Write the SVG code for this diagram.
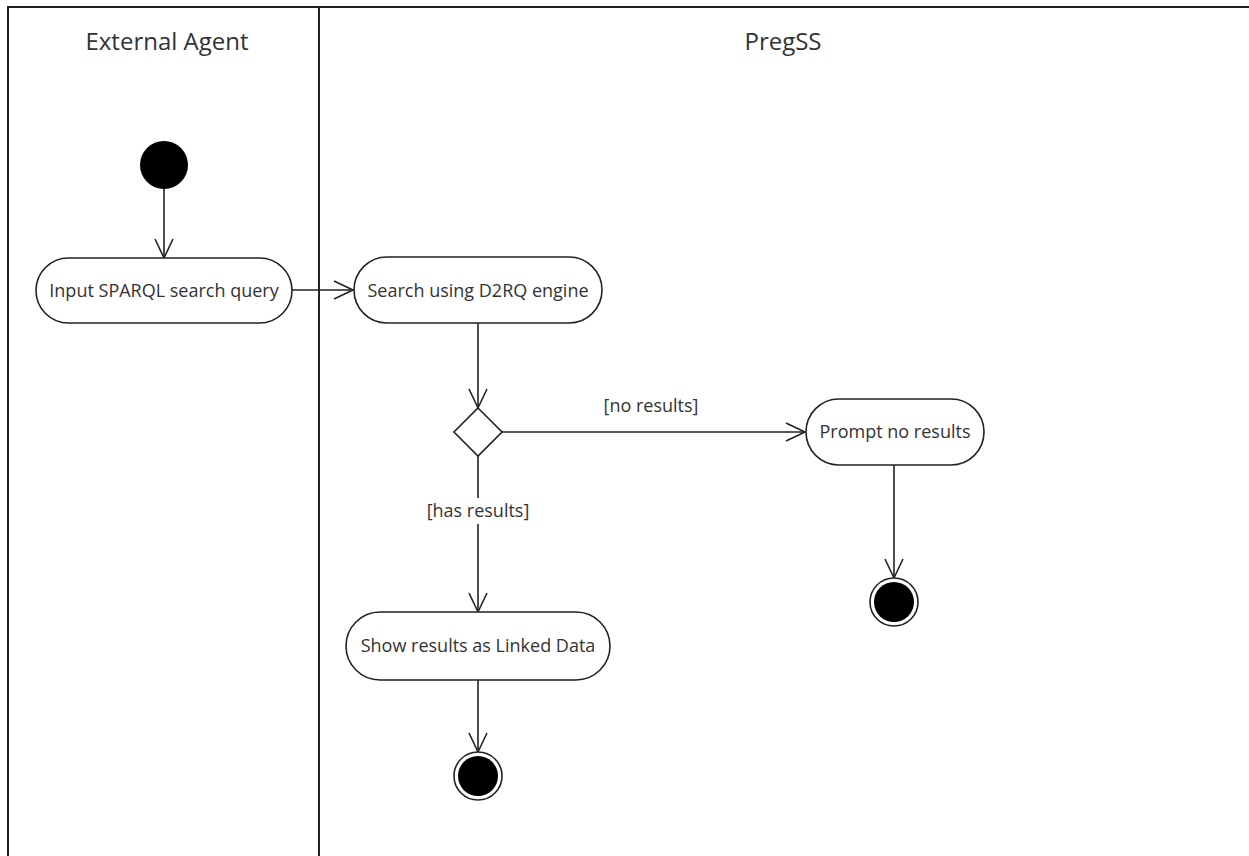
<svg xmlns="http://www.w3.org/2000/svg" width="1249" height="856" viewBox="0 0 1249 856">
<style>
.lane{fill:none;stroke:#222;stroke-width:2}
.act{fill:#fff;stroke:#222;stroke-width:1.6}
.t{font-family:"Open Sans","Noto Sans","Liberation Sans",sans-serif;font-size:18px;fill:#333;text-anchor:middle}
.h{font-family:"Open Sans","Noto Sans","Liberation Sans",sans-serif;font-size:24px;fill:#333;text-anchor:middle}
.c{fill:none;stroke:#222;stroke-width:1.6}
</style>
<defs>
<marker id="arr" markerWidth="24" markerHeight="24" refX="20" refY="12" orient="auto" markerUnits="userSpaceOnUse">
<path d="M1,3 L20,12 L1,21" fill="none" stroke="#222" stroke-width="1.6"/>
</marker>
</defs>
<rect width="1249" height="856" fill="#fff"/>
<g id="lanes">
<path class="lane" d="M8,856 L8,7 L1249,7"/>
<line class="lane" x1="319" y1="7" x2="319" y2="856"/>
<text class="h" x="167" y="50">External Agent</text>
<text class="h" x="783" y="50">PregSS</text>
</g>
<g id="connectors">
<line class="c" x1="164" y1="188" x2="164" y2="258" marker-end="url(#arr)"/>
<line class="c" x1="292" y1="290" x2="353" y2="290" marker-end="url(#arr)"/>
<line class="c" x1="478" y1="323" x2="478" y2="408" marker-end="url(#arr)"/>
<line class="c" x1="502" y1="432" x2="805" y2="432" marker-end="url(#arr)"/>
<line class="c" x1="478" y1="456" x2="478" y2="612" marker-end="url(#arr)"/>
<line class="c" x1="894" y1="465" x2="894" y2="578" marker-end="url(#arr)"/>
<line class="c" x1="478" y1="680" x2="478" y2="752" marker-end="url(#arr)"/>
<rect x="424" y="498" width="108" height="26" fill="#fff"/>
<text class="t" x="478" y="517">[has results]</text>
<text class="t" x="651" y="412">[no results]</text>
</g>
<g id="start">
<circle cx="164" cy="165" r="24" fill="#000"/>
</g>
<g id="input">
<rect class="act" x="36" y="258" width="256" height="65" rx="32.5"/>
<text class="t" x="164" y="297">Input SPARQL search query</text>
</g>
<g id="search">
<rect class="act" x="354" y="257" width="248" height="66" rx="33"/>
<text class="t" x="478" y="297">Search using D2RQ engine</text>
</g>
<g id="decision">
<polygon class="act" points="478,408 502,432 478,456 454,432"/>
</g>
<g id="prompt">
<rect class="act" x="806" y="399" width="178" height="66" rx="33"/>
<text class="t" x="895" y="438">Prompt no results</text>
</g>
<g id="end1">
<circle cx="894" cy="602" r="24" fill="#fff" stroke="#222" stroke-width="1.6"/>
<circle cx="894" cy="602" r="20" fill="#000"/>
</g>
<g id="show">
<rect class="act" x="346" y="612" width="264" height="68" rx="34"/>
<text class="t" x="478" y="652">Show results as Linked Data</text>
</g>
<g id="end2">
<circle cx="478" cy="776" r="24" fill="#fff" stroke="#222" stroke-width="1.6"/>
<circle cx="478" cy="776" r="20" fill="#000"/>
</g>
</svg>
